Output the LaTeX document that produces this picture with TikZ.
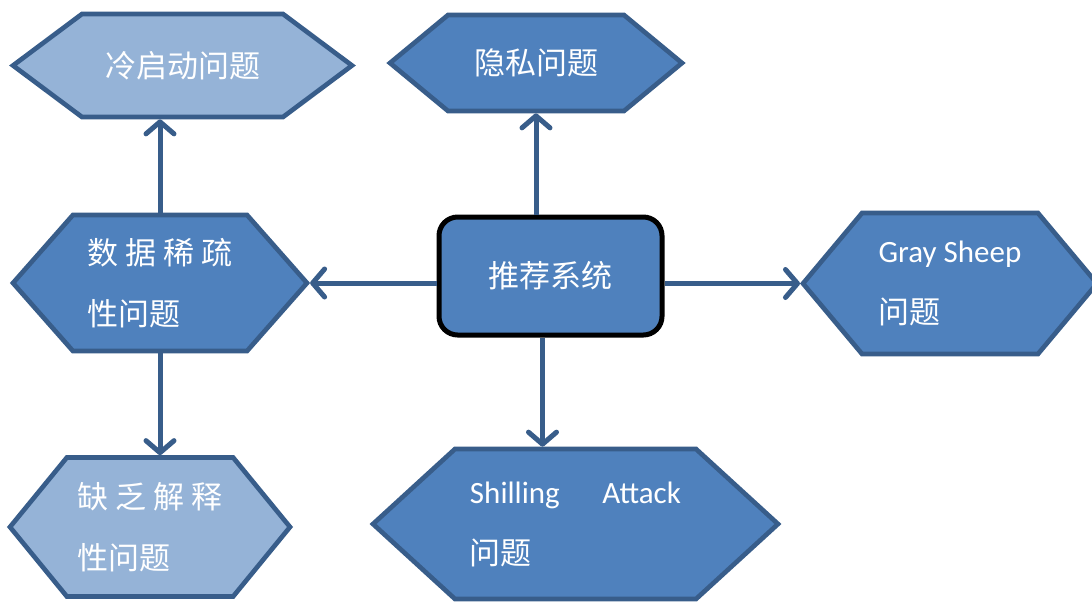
\documentclass[tikz,border=0pt]{standalone}
\usepackage{fontspec}
\newfontfamily\cjk{Noto Sans CJK SC}
\newfontfamily\latin{Carlito}
\usetikzlibrary{shapes.symbols,arrows.meta}
\definecolor{darkfill}{HTML}{4F81BD}
\definecolor{lightfill}{HTML}{95B3D7}
\definecolor{edgeblue}{HTML}{385D8A}
\begin{document}
\begin{tikzpicture}[x=0.75pt,y=-0.75pt,
  hexbox/.style={signal,signal to=east and west,draw=edgeblue,line width=3.5pt,text=white,align=left,inner sep=0pt,font=\cjk\fontsize{23.25}{45.75}\selectfont},
  darkhex/.style={hexbox,fill=darkfill},
  lighthex/.style={hexbox,fill=lightfill},
  link/.style={-{Straight Barb[length=9pt,width=21pt,round]},draw=edgeblue,line width=3.75pt}]
  \useasboundingbox (0,0) rectangle (1092,601);
  \fill[white] (0,0) rectangle (1092,601);
  \node (cold) [lighthex,minimum width=254.25pt,minimum height=77.25pt,signal pointer angle=73.5] at (182.5,65.5) {冷启动问题};
  \node (privacy) [darkhex,minimum width=219pt,minimum height=72pt,signal pointer angle=79.2] at (536,63) {隐私问题};
  \node (sparse) [darkhex,minimum width=220.5pt,minimum height=102pt,signal pointer angle=97.2] at (160,283) {数 据 稀 疏\\性问题};
  \node (sys) [draw=black,line width=3.75pt,fill=darkfill,rounded corners=14pt,minimum width=167.25pt,minimum height=88.5pt,text=white,font=\cjk\fontsize{23.25}{30}\selectfont] at (550.5,276) {推荐系统};
  \node (gray) [darkhex,minimum width=220.5pt,minimum height=105.75pt,signal pointer angle=100.1] at (950,283.5) {{\latin Gray Sheep}\\问题};
  \node (explain) [lighthex,minimum width=210pt,minimum height=104.25pt,signal pointer angle=101.4] at (150,527) {缺 乏 解 释\\性问题};
  \node (shilling) [darkhex,minimum width=303.75pt,minimum height=112.5pt,signal pointer angle=84.9] at (575.5,524) {{\latin Shilling\hspace{32pt}Attack}\\问题};
  \draw[link] (sparse.north) -- (cold.south -| sparse.north);
  \draw[link] (sys.north -| privacy) -- (privacy.south);
  \draw[link] (sys.west |- sparse.east) -- (sparse.east);
  \draw[link] (sys.east |- gray.west) -- (gray.west);
  \draw[link] ([xshift=-6pt]sys.south) -- ([xshift=-6pt]sys.south |- shilling.north);
  \draw[link] (sparse.south) -- (sparse.south |- explain.north);
\end{tikzpicture}
\end{document}
